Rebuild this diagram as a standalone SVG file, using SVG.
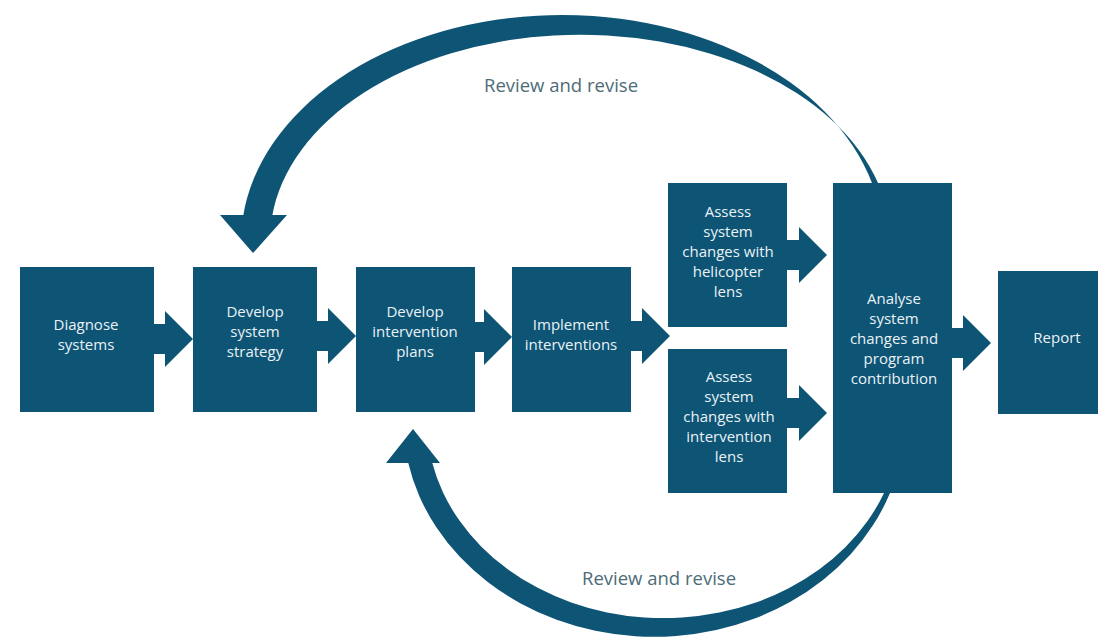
<svg xmlns="http://www.w3.org/2000/svg" width="1098" height="641" viewBox="0 0 1098 641">
<style>
.box{fill:#0e5475}
.lbl{font-family:"Open Sans","Noto Sans",sans-serif;font-size:15px;fill:#eaf2f5;text-anchor:middle}
.conn{fill:#0e5475}
.rev{font-family:"Open Sans","Noto Sans",sans-serif;font-size:18.5px;fill:#4d6c77;text-anchor:middle}
</style>
<rect width="1098" height="641" fill="#ffffff"/>
<g id="connectors">
  <path class="conn" d="M154 324h11v-13l28 28l-28 28v-13h-11z"/>
  <path class="conn" d="M317 321h11v-13l28 28l-28 28v-13h-11z"/>
  <path class="conn" d="M475 322h9v-13l28 28l-28 28v-13h-9z"/>
  <path class="conn" d="M631 321h11v-13l28 28l-28 28v-13h-11z"/>
  <path class="conn" d="M787 240h12v-13l28 28l-28 28v-13h-12z"/>
  <path class="conn" d="M787 398h12v-13l28 28l-28 28v-13h-12z"/>
  <path class="conn" d="M952 328h11v-13l28 28l-28 28v-13h-11z"/>
  <g id="feedback-top">
    <path class="conn" d="M243 217A321 227 0 0 1 872 183L878 183A310 205 0 0 0 272 217Z"/>
    <polygon class="conn" points="220,215 287,215 253,253"/>
    <text class="rev" x="561" y="92">Review and revise</text>
  </g>
  <g id="feedback-bottom">
    <path class="conn" d="M408 462A251 218 0 0 0 890 493L884 493A237 198 0 0 1 432 462Z"/>
    <polygon class="conn" points="386,463 440,463 413,429"/>
    <text class="rev" x="659" y="585">Review and revise</text>
  </g>
</g>
<g id="diagnose">
  <rect class="box" x="20" y="267" width="134" height="145"/>
  <text class="lbl"><tspan x="86" y="330">Diagnose</tspan><tspan x="86" y="350">systems</tspan></text>
</g>
<g id="strategy">
  <rect class="box" x="193" y="267" width="124" height="145"/>
  <text class="lbl"><tspan x="255" y="317">Develop</tspan><tspan x="255" y="337">system</tspan><tspan x="255" y="357">strategy</tspan></text>
</g>
<g id="plans">
  <rect class="box" x="356" y="267" width="119" height="145"/>
  <text class="lbl"><tspan x="415" y="317">Develop</tspan><tspan x="415" y="337">intervention</tspan><tspan x="415" y="357">plans</tspan></text>
</g>
<g id="implement">
  <rect class="box" x="512" y="267" width="119" height="145"/>
  <text class="lbl"><tspan x="571" y="330">Implement</tspan><tspan x="571" y="350">interventions</tspan></text>
</g>
<g id="assess-helicopter">
  <rect class="box" x="668" y="183" width="119" height="144"/>
  <text class="lbl"><tspan x="728" y="217">Assess</tspan><tspan x="728" y="237">system</tspan><tspan x="728" y="257">changes with</tspan><tspan x="728" y="277">helicopter</tspan><tspan x="728" y="297">lens</tspan></text>
</g>
<g id="assess-intervention">
  <rect class="box" x="668" y="349" width="119" height="144"/>
  <text class="lbl"><tspan x="729" y="382">Assess</tspan><tspan x="729" y="402">system</tspan><tspan x="729" y="422">changes with</tspan><tspan x="729" y="442">intervention</tspan><tspan x="729" y="462">lens</tspan></text>
</g>
<g id="analyse">
  <rect class="box" x="833" y="183" width="119" height="310"/>
  <text class="lbl"><tspan x="894" y="304">Analyse</tspan><tspan x="894" y="324">system</tspan><tspan x="894" y="344">changes and</tspan><tspan x="894" y="364">program</tspan><tspan x="894" y="384">contribution</tspan></text>
</g>
<g id="report">
  <rect class="box" x="998" y="271" width="100" height="143"/>
  <text class="lbl" x="1057" y="343">Report</text>
</g>
</svg>
